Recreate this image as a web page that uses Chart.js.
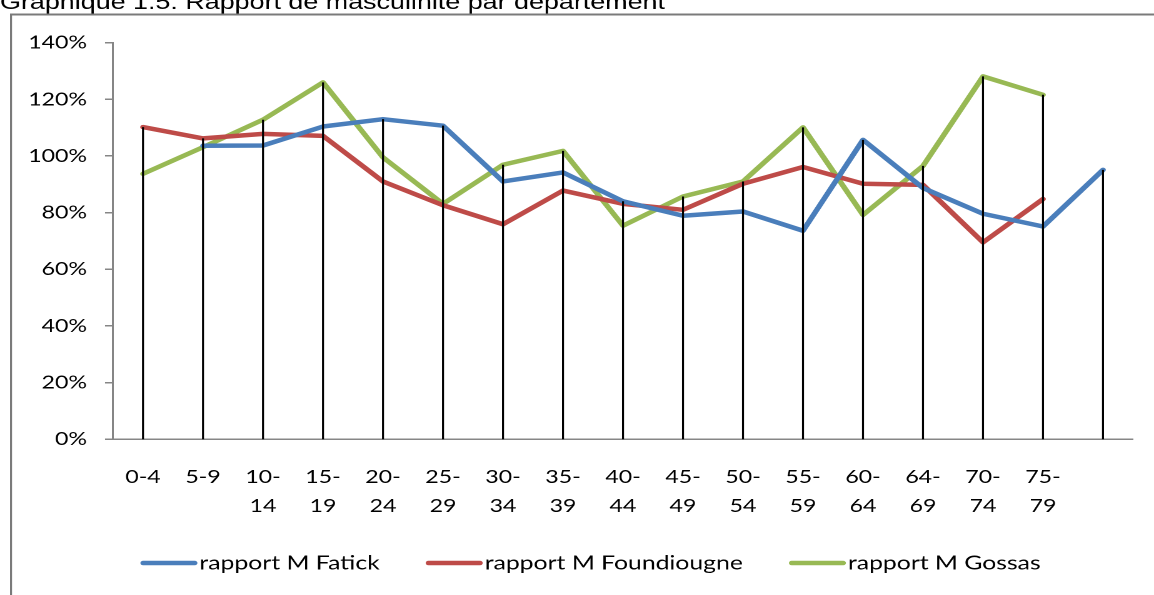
<!DOCTYPE html>
<html><head><meta charset="utf-8">
<script src="https://cdn.jsdelivr.net/npm/chart.js@4"></script>
<style>html,body{margin:0;padding:0;background:#fff;overflow:hidden}</style>
</head><body>
<canvas id="c" width="923" height="595" style="display:block;width:1154px;height:595px"></canvas>
<script>
// ---- data ----
const ageGroups = ['0-4','5-9',['10-','14'],['15-','19'],['20-','24'],['25-','29'],['30-','34'],['35-','39'],['40-','44'],['45-','49'],['50-','54'],['55-','59'],['60-','64'],['64-','69'],['70-','74'],['75-','79'],''];
const fatick      = [null,103.6,103.7,110.4,113.0,110.7,91.0,94.2,84.0,78.9,80.4,73.6,105.7,88.7,79.6,75.1,95.1];
const foundiougne = [110.2,106.2,107.8,107.1,91.0,82.6,75.9,87.8,83.1,81.0,90.2,96.1,90.2,89.8,69.5,84.8,null];
const gossas      = [93.7,103.1,112.8,126.0,99.5,83.1,96.9,101.8,75.4,85.7,91.0,110.1,79.2,96.5,128.1,121.6,null];
const yTicks = [0,20,40,60,80,100,120,140];
const seriesNames = ['rapport M Fatick','rapport M Foundiougne','rapport M Gossas'];
const chartTitle = 'Graphique 1.5: Rapport de masculinité par département';

// ---- layout (logical canvas is stretched horizontally to 1154px) ----
const W = 923, S = 1154 / W;
const px = v => v / S;
const FS = 18.5, FS_LEG = 19.8;
const LEG_BOX = 64.1, LEG_SWATCH = 45.6, LINE_W = 4.5;

Chart.defaults.font.family = "Lato, 'Open Sans', sans-serif";
Chart.defaults.color = '#000';

const frameTitle = {
  id: 'frameTitle',
  beforeDraw(chart) {
    const ctx = chart.ctx;
    ctx.save();
    ctx.strokeStyle = '#7a7a7a';
    ctx.lineWidth = 2;
    ctx.beginPath(); ctx.moveTo(px(10), 14.5); ctx.lineTo(W + 5, 14.5); ctx.stroke();
    ctx.lineWidth = px(2);
    ctx.beginPath(); ctx.moveTo(px(11), 13.5); ctx.lineTo(px(11), 600); ctx.stroke();
    ctx.fillStyle = '#000';
    ctx.font = '21.5px "Liberation Sans", Arial, sans-serif';
    ctx.textBaseline = 'alphabetic';
    ctx.textAlign = 'left';
    ctx.fillText(chartTitle, 0, 9);
    ctx.restore();
  }
};

const dropLines = {
  id: 'dropLines',
  afterDatasetsDraw(chart) {
    const ctx = chart.ctx, xs = chart.scales.x, ys = chart.scales.y;
    ctx.save();
    ctx.strokeStyle = '#000';
    ctx.lineWidth = 1.6;
    ageGroups.forEach((_, i) => {
      const vals = chart.data.datasets.map(d => d.data[i]).filter(v => v != null);
      if (!vals.length) return;
      const x = xs.getPixelForValue(i);
      ctx.beginPath();
      ctx.moveTo(x, ys.getPixelForValue(Math.max(...vals)));
      ctx.lineTo(x, ys.getPixelForValue(0));
      ctx.stroke();
    });
    ctx.restore();
  }
};

const legendSwatches = {
  id: 'legendSwatches',
  afterDraw(chart) {
    const lg = chart.legend; if (!lg || !lg.legendHitBoxes) return;
    const ctx = chart.ctx;
    ctx.save();
    ctx.lineCap = 'round';
    ctx.lineWidth = LINE_W;
    lg.legendHitBoxes.forEach((hb, i) => {
      const textX = hb.left + LEG_BOX + FS_LEG / 2;
      const x1 = textX - 1.6, x0 = x1 - LEG_SWATCH;
      const cy = hb.top + hb.height / 2;
      ctx.strokeStyle = chart.data.datasets[i].borderColor;
      ctx.beginPath();
      ctx.moveTo(x0 + LINE_W / 2, cy);
      ctx.lineTo(x1 - LINE_W / 2, cy);
      ctx.stroke();
    });
    ctx.restore();
  }
};

const mk = (label, data, color) => ({
  label, data, borderColor: color, backgroundColor: color,
  borderWidth: LINE_W, pointRadius: 0, tension: 0, spanGaps: false,
  borderCapStyle: 'round', borderJoinStyle: 'round', fill: false
});

new Chart(document.getElementById('c'), {
  type: 'line',
  data: {
    labels: ageGroups,
    datasets: [
      mk(seriesNames[0], fatick, '#4A7EBB'),
      mk(seriesNames[1], foundiougne, '#BE4B48'),
      mk(seriesNames[2], gossas, '#98B954')
    ]
  },
  options: {
    responsive: false,
    devicePixelRatio: 2,
    animation: false,
    events: [],
    layout: { padding: { left: 11.6, right: 16.8, top: 42.7, bottom: 12.1 } },
    plugins: {
      tooltip: { enabled: false },
      title: { display: false },
      legend: {
        position: 'bottom', align: 'center',
        labels: {
          boxWidth: LEG_BOX, font: { size: FS_LEG }, color: '#000', padding: 10,
          generateLabels(chart) {
            const items = Chart.defaults.plugins.legend.labels.generateLabels(chart);
            items.forEach(it => { it.fillStyle = 'rgba(0,0,0,0)'; it.strokeStyle = 'rgba(0,0,0,0)'; it.lineWidth = 0; });
            return items;
          }
        }
      }
    },
    scales: {
      x: {
        type: 'category', offset: true,
        afterFit(s) { s.height = 103.9; },
        grid: { display: false, drawTicks: false },
        border: { display: true, color: '#868686', width: 1.5 },
        ticks: { autoSkip: false, maxRotation: 0, minRotation: 0, padding: 23.3, color: '#000',
                 font: { size: FS, lineHeight: 29 / FS } }
      },
      y: {
        min: 0, max: 140,
        afterBuildTicks(s) { s.ticks = yTicks.map(v => ({ value: v })); },
        afterFit(s) { s.width = px(113) - 11.6; },
        grid: { drawOnChartArea: false, drawTicks: true, tickLength: px(8), color: '#868686', lineWidth: 1.5 },
        border: { display: true, color: '#868686', width: 1.5 },
        ticks: { callback: v => v + '%', color: '#000', font: { size: FS }, padding: px(18) }
      }
    }
  },
  plugins: [frameTitle, dropLines, legendSwatches]
});
</script>
</body></html>
